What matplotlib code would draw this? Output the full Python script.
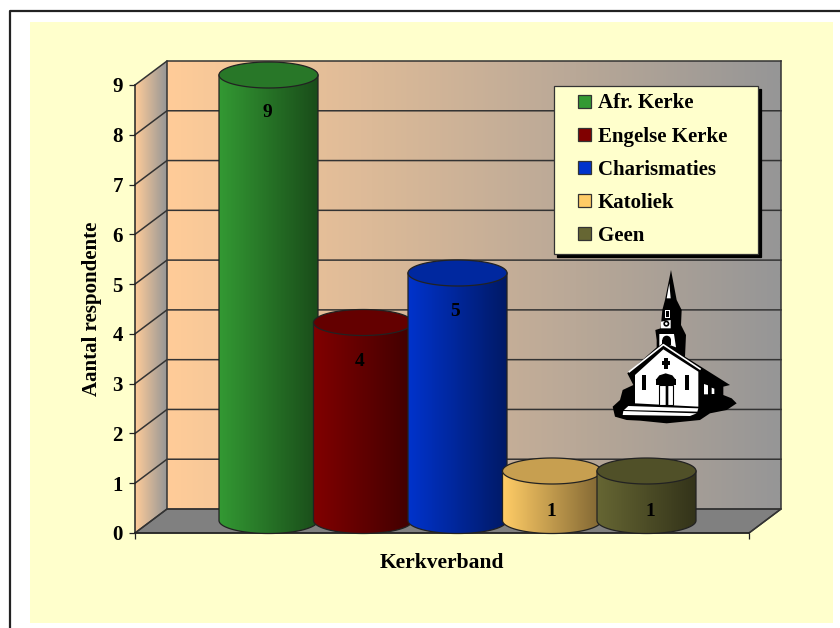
import numpy as np
import matplotlib
matplotlib.use('Agg')
import matplotlib.pyplot as plt
from matplotlib.colors import to_rgb
from matplotlib.legend_handler import HandlerPatch
from matplotlib.patches import Patch, Polygon, Rectangle, Circle, Wedge
from matplotlib.path import Path

plt.rcParams['font.family'] = ['Liberation Serif', 'DejaVu Serif']
plt.rcParams['font.weight'] = 'bold'

# data
kerke = ['Afr. Kerke', 'Engelse Kerke', 'Charismaties', 'Katoliek', 'Geen']
aantal = [9, 4, 5, 1, 1]
kleure = ['#339933', '#800000', '#0033cc', '#ffcc66', '#666633']
yticks = list(range(10))

W, H = 840, 628
fig = plt.figure(figsize=(W / 100, H / 100), dpi=100, facecolor='white')

# background + frame in pixels
bg = fig.add_axes([0, 0, 1, 1], zorder=0)
bg.set_xlim(0, W)
bg.set_ylim(H, 0)
bg.axis('off')
bg.add_patch(Rectangle((30, 22), 803, 601, fc='#ffffcc', ec='none'))
bg.plot([9.5, 9.5, 840], [628, 11, 11], color='#222222', lw=1.6)

# main axes = front plane of the 3d box
left, right, bottom, top = 135, 749, 533, 85
ax = fig.add_axes([left / W, 1 - bottom / H, (right - left) / W, (bottom - top) / H], zorder=1)
ax.patch.set_alpha(0)
px_x = 94.5   # pixels per bar step
px_y = (bottom - top) / 9
x0 = -(268.5 - left) / px_x
x1 = (right - 268.5) / px_x
dx = 32 / px_x    # box depth
dy = 24 / px_y
hw = 49.5 / px_x  # cylinder half width
hh = 13 / px_y    # ellipse half height
lift = 12.5 / px_y
bar_scale = 49.5 / px_y  # bars come out a bit shorter than the ticks
lab_dx = [-1.5, -3, -2, -1, 4]  # pixel nudge of the value labels


def grad(path, c1, c2, ext, z):
    g = np.linspace(0, 1, 128)[:, None]
    arr = (np.array(to_rgb(c1)) * (1 - g) + np.array(to_rgb(c2)) * g)[None, :, :]
    im = ax.imshow(arr, extent=ext, aspect='auto', origin='lower',
                   interpolation='bilinear', zorder=z)
    im.set_clip_path(path, transform=ax.transData)
    im.set_clip_box(fig.bbox)
    return im


# walls
side = Path([(x0, 0), (x0 + dx, dy), (x0 + dx, 9 + dy), (x0, 9), (x0, 0)])
grad(side, '#ffcc99', '#969696', [x0, x0 + dx, 0, 9 + dy], 1)
back = Path([(x0 + dx, dy), (x1 + dx, dy), (x1 + dx, 9 + dy), (x0 + dx, 9 + dy), (x0 + dx, dy)])
grad(back, '#ffcc99', '#969696', [x0 + dx, x1 + dx, dy, 9 + dy], 1)
ax.add_patch(Polygon([(x0, 0), (x1, 0), (x1 + dx, dy), (x0 + dx, dy)], fc='#808080',
                     ec='#333333', lw=1, zorder=1.5, clip_on=False))

wall_c = '#333333'
for v in yticks:
    ax.plot([x0, x0 + dx, x1 + dx], [v, v + dy, v + dy], color=wall_c, lw=1.1, zorder=2, clip_on=False)
ax.plot([x0 + dx, x0 + dx], [dy, 9 + dy], color=wall_c, lw=1.1, zorder=2, clip_on=False)
ax.plot([x1 + dx, x1 + dx, x1], [9 + dy, dy, 0], color=wall_c, lw=1.1, zorder=2, clip_on=False)

# cylinders
t = np.linspace(0, np.pi, 80)
for i, (v, c) in enumerate(zip(aantal, kleure)):
    z = 3 + i
    base = lift
    tp = v * bar_scale + lift
    xs = i + hw * np.cos(t)
    ys = base - hh * np.sin(t)
    outline_x = np.r_[i + hw, xs, i - hw]
    outline_y = np.r_[tp, ys, tp]
    body = Path(np.c_[np.r_[outline_x, i + hw], np.r_[outline_y, tp]], closed=True)
    grad(body, c, np.array(to_rgb(c)) * 0.5, [i - hw, i + hw, 0, tp], z)
    ax.plot(outline_x, outline_y, color='#222222', lw=0.9, zorder=z, clip_on=False)
    # top ellipse
    a = np.linspace(0, 2 * np.pi, 160)
    ax.add_patch(Polygon(np.c_[i + hw * np.cos(a), tp + hh * np.sin(a)],
                         fc=np.array(to_rgb(c)) * 0.78, ec='#222222', lw=0.9,
                         zorder=z + 0.1, clip_on=False))
    ax.text(i + lab_dx[i] / px_x, v - 0.56, str(v), ha='center', va='center', fontsize=14,
            color='black', zorder=z + 0.2)

# axes
ax.set_xlim(x0, x1)
ax.set_ylim(0, 9)
ax.set_yticks(yticks)
ax.set_xticks([x0, x1])
ax.set_xticklabels([])
ax.tick_params(axis='both', length=4.5, width=0.9, color='#222222', pad=4.2)
ax.tick_params(axis='y', labelsize=15)
for s in ['top', 'right']:
    ax.spines[s].set_visible(False)
for s in ['left', 'bottom']:
    ax.spines[s].set_linewidth(1.1)
    ax.spines[s].set_color('#222222')
    ax.spines[s].set_zorder(2.5)
ax.set_xlabel('Kerkverband', fontsize=15.5, fontweight='bold', labelpad=5.5)
ax.set_ylabel('Aantal respondente', fontsize=15, fontweight='bold', labelpad=7.5)


# legend: swatch sits at the right end of a wide handle box
def swatch(legend, orig_handle, xdescent, ydescent, width, height, fontsize):
    s = 13 / 100 * 72
    return Rectangle((width - s - xdescent - 0.7, (height - s) / 2 - ydescent), s, s)


handles = [Patch(fc=c, ec='#333333', lw=0.9, label=k) for c, k in zip(kleure, kerke)]
leg = ax.legend(handles=handles, loc='upper left',
                bbox_to_anchor=(554 / W, 1 - 253 / H, 204 / W, 167 / H),
                bbox_transform=fig.transFigure, mode='expand', borderaxespad=0, fontsize=15,
                handlelength=1.44, handleheight=0.7, handletextpad=0.29,
                labelspacing=0.63, borderpad=0.36, fancybox=False, framealpha=1,
                facecolor='#ffffcc', edgecolor='#333333',
                shadow={'ox': 2.2, 'oy': -2.2, 'color': 'black', 'alpha': 1},
                handler_map={Patch: HandlerPatch(patch_func=swatch)})
leg.set_zorder(20)
leg.get_frame().set_linewidth(0.9)

# church clip art, coordinates of a 150x170 pixel box
ch = fig.add_axes([600 / W, 1 - 430 / H, 150 / W, 170 / H], zorder=2)
ch.set_xlim(0, 450)
ch.set_ylim(510, 0)
ch.axis('off')
ch.add_patch(Polygon([(213, 30), (230, 120), (245, 150), (243, 195), (258, 225), (255, 290), (390, 375),
                      (370, 380), (370, 405), (395, 415), (410, 430), (380, 450), (330, 460), (300, 480),
                      (200, 490), (120, 482), (80, 480), (45, 470), (38, 440), (60, 420), (68, 390),
                      (100, 375), (82, 340), (170, 262), (170, 240), (166, 210), (182, 205), (187, 150),
                      (195, 120)], fc='black', ec='none'))
white = [
    [(105, 345), (190, 268), (295, 335), (295, 440), (105, 430)],
    [(178, 222), (222, 222), (228, 262), (190, 248), (178, 258)],
    [(183, 185), (212, 180), (212, 205), (183, 205)],
    [(194, 150), (210, 150), (210, 174), (194, 174)],
    [(208, 70), (200, 115), (212, 115)],
    [(85, 438), (295, 445), (292, 455), (72, 450)],
    [(70, 453), (290, 460), (270, 468), (68, 465)],
    [(312, 372), (324, 376), (324, 403), (312, 403)],
    [(335, 383), (343, 386), (343, 402), (335, 402)],
]
for p in white:
    ch.add_patch(Polygon(p, fc='white', ec='none'))
ch.plot([88, 190, 300], [335, 254, 327], color='white', lw=1.2)
ch.add_patch(Circle((199, 191), 9, fc='black', ec='none'))
ch.add_patch(Circle((199, 191), 4, fc='white', ec='none'))
ch.add_patch(Rectangle((197, 153), 10, 18, fc='black', ec='none'))
ch.add_patch(Wedge((200, 240), 13, 180, 360, fc='black', ec='none'))
ch.add_patch(Rectangle((187, 240), 26, 14, fc='black', ec='none'))
ch.add_patch(Rectangle((193, 293), 10, 35, fc='black', ec='none'))
ch.add_patch(Rectangle((185, 304), 26, 10, fc='black', ec='none'))
ch.add_patch(Rectangle((125, 345), 13, 45, fc='black', ec='none'))
ch.add_patch(Rectangle((255, 345), 13, 45, fc='black', ec='none'))
ch.add_patch(Polygon([(167, 360), (178, 346), (197, 340), (217, 346), (228, 360)], fc='black', ec='none'))
ch.add_patch(Rectangle((167, 358), 61, 16, fc='black', ec='none'))
ch.add_patch(Rectangle((178, 374), 42, 62, fc='white', ec='black', lw=0.8))
ch.add_patch(Polygon([(197, 374), (205, 378), (205, 436), (197, 436)], fc='black', ec='none'))

fig.savefig('out.png', dpi=100, facecolor='white')
